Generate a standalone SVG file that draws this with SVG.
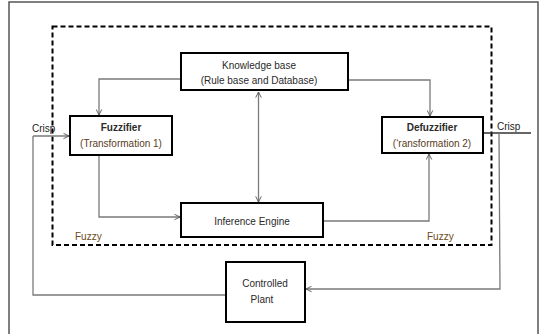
<svg xmlns="http://www.w3.org/2000/svg" width="539" height="334" viewBox="0 0 539 334">
<defs>
<style>
.node{fill:#fff;stroke:#000;stroke-width:2}
.conn{fill:none;stroke:#7a7a7a;stroke-width:1.3}
.t{font-family:"Liberation Sans",Arial,sans-serif;font-size:10px;fill:#2a2a2a;text-anchor:middle}
.b{font-weight:bold}
.br{fill:#5a3b1c}
.lab{font-family:"Liberation Sans",Arial,sans-serif;font-size:10px;fill:#222}
.fz{font-family:"Liberation Sans",Arial,sans-serif;font-size:10px;fill:#6a4a22}
</style>
<marker id="arr" viewBox="0 0 10 10" refX="9" refY="5" markerWidth="7" markerHeight="7" orient="auto-start-reverse" markerUnits="userSpaceOnUse">
<path d="M1,1 L9,5 L1,9" fill="none" stroke="#555" stroke-width="1.3"/>
</marker>
</defs>
<rect x="0" y="0" width="539" height="334" fill="#fff"/>
<rect x="9" y="2" width="529" height="334" fill="none" stroke="#555" stroke-width="1.5"/>
<rect x="52.5" y="26.5" width="439" height="218.5" fill="none" stroke="#000" stroke-width="2" stroke-dasharray="5,3"/>
<g id="connectors">
<polyline class="conn" points="181,79 99,79 99,115" marker-end="url(#arr)"/>
<polyline class="conn" points="348,80 430,80 430,116" marker-end="url(#arr)"/>
<polyline class="conn" points="99,155 99,217 180,217" marker-end="url(#arr)"/>
<polyline class="conn" points="323,221 429,221 429,154" marker-end="url(#arr)"/>
<line class="conn" x1="258.5" y1="92" x2="258.5" y2="202" marker-start="url(#arr)" marker-end="url(#arr)"/>
<polyline class="conn" points="33,136 69,136" marker-end="url(#arr)"/>
<polyline class="conn" points="225,295 33,295 33,136"/>
<line x1="483" y1="133" x2="531" y2="133" stroke="#333" stroke-width="1.3"/>
<polyline class="conn" points="499,133 500,289 306,289" marker-end="url(#arr)"/>
</g>
<g id="kb">
<rect class="node" x="181" y="53" width="167" height="37"/>
<text class="t" x="259" y="69">Knowledge base</text>
<text class="t" x="259" y="84">(Rule base and Database)</text>
</g>
<g id="fuzzifier">
<rect class="node" x="70" y="116" width="102" height="39"/>
<text class="t b" x="121" y="131">Fuzzifier</text>
<text class="t br" x="121" y="147">(Transformation 1)</text>
</g>
<g id="defuzzifier">
<rect class="node" x="382" y="117" width="101" height="36"/>
<text class="t b" x="432" y="131">Defuzzifier</text>
<text class="t br" x="432" y="147">(‘ransformation 2)</text>
</g>
<g id="inference">
<rect class="node" x="181" y="203" width="142" height="34"/>
<text class="t" x="252" y="225">Inference Engine</text>
</g>
<g id="plant">
<rect class="node" x="226" y="262" width="79" height="60"/>
<text class="t" x="265" y="287">Controlled</text>
<text class="t" x="262" y="303">Plant</text>
</g>
<text class="lab" x="32" y="132">Crisp</text>
<text class="lab" x="497" y="130">Crisp</text>
<text class="fz" x="75" y="240">Fuzzy</text>
<text class="fz" x="427" y="240">Fuzzy</text>
</svg>
